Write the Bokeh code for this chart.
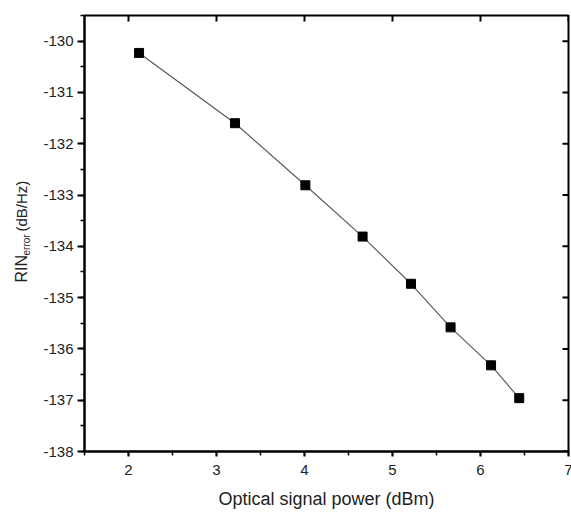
import math
from bokeh.plotting import figure
from bokeh.layouts import row
from bokeh.models import LinearAxis, SingleIntervalTicker, Range1d, NumeralTickFormatter
from bokeh.core.properties import value
from bokeh.embed import file_html
from bokeh.resources import INLINE

# data
power_dbm = [2.12, 3.21, 4.01, 4.66, 5.21, 5.66, 6.12, 6.44]
rin_error = [-130.23, -131.60, -132.81, -133.81, -134.73, -135.58, -136.32, -136.96]

x_ticks = [2, 3, 4, 5, 6, 7]
y_ticks = [-138, -137, -136, -135, -134, -133, -132, -131, -130]

x_label = "Optical signal power (dBm)"
y_label_parts = ["RIN", "error", "(dB/Hz)"]

FONT = "Liberation Sans"
X0, X1, Y0, Y1 = 1.5, 7.0, -138.0, -129.5
FW, FH = 484, 436
TITLE_W = 40

p = figure(frame_width=FW, frame_height=FH,
           x_range=Range1d(X0, X1), y_range=Range1d(Y0, Y1),
           output_backend="svg", toolbar_location=None,
           min_border_left=83 - TITLE_W, min_border_right=4, min_border_top=15, min_border_bottom=61,
           x_axis_location=None, y_axis_location=None)
p.outline_line_color = "black"
p.outline_line_width = 2
p.xgrid.visible = False
p.ygrid.visible = False
p.background_fill_color = "white"
p.border_fill_color = "white"

def style(ax, major_out, minor_out):
    ax.axis_line_width = 2
    ax.axis_line_color = "black"
    ax.major_tick_line_width = 2
    ax.major_tick_line_color = "black"
    ax.minor_tick_line_width = 1.5
    ax.minor_tick_line_color = "black"
    ax.major_tick_in = 0
    ax.major_tick_out = major_out
    ax.minor_tick_in = 0
    ax.minor_tick_out = minor_out
    ax.major_label_text_font = FONT
    ax.major_label_text_font_size = "15px"
    ax.major_label_text_color = "#222222"
    ax.formatter = NumeralTickFormatter(format="0")

xb = LinearAxis(ticker=SingleIntervalTicker(interval=1, num_minor_ticks=2))
style(xb, 5, 4)
xb.major_label_standoff = 8
xb.axis_label = x_label
xb.axis_label_text_font = FONT
xb.axis_label_text_font_size = "18px"
xb.axis_label_text_font_style = "normal"
xb.axis_label_text_color = "#222222"
xb.axis_label_standoff = 11
p.add_layout(xb, "below")

yl = LinearAxis(ticker=SingleIntervalTicker(interval=1, num_minor_ticks=2))
style(yl, 7, 4)
yl.major_label_standoff = 4
p.add_layout(yl, "left")

# inward major ticks on the top and right frame edges
tick_px = 6
dy = tick_px * (Y1 - Y0) / FH
dx = tick_px * (X1 - X0) / FW
p.segment(x0=x_ticks, y0=[Y1] * len(x_ticks), x1=x_ticks, y1=[Y1 - dy] * len(x_ticks),
          line_color="black", line_width=2)
p.segment(x0=[X1] * len(y_ticks), y0=y_ticks, x1=[X1 - dx] * len(y_ticks), y1=y_ticks,
          line_color="black", line_width=2)

p.line(power_dbm, rin_error, line_color="#5a5252", line_width=1.1)
p.scatter(power_dbm, rin_error, marker="square", size=9, fill_color="black", line_color="black")

# narrow figure carrying the rotated y-axis title with its subscript (pixel coordinates)
H = 15 + FH + 61
t = figure(frame_width=TITLE_W, frame_height=H, x_range=Range1d(0, TITLE_W), y_range=Range1d(H, 0),
           output_backend="svg", toolbar_location=None, min_border=0,
           x_axis_location=None, y_axis_location=None)
t.outline_line_color = None
t.xgrid.visible = False
t.ygrid.visible = False
t.background_fill_color = "white"
t.border_fill_color = "white"

title_x = [21, 26, 21]
title_y = [267, 240, 216]
title_size = ["16px", "10px", "15px"]
for txt, xx, yy, fs in zip(y_label_parts, title_x, title_y, title_size):
    t.text(x=[xx], y=[yy], text=[txt], angle=math.pi / 2,
           text_align="left", text_baseline="alphabetic",
           text_font=value(FONT), text_font_size=value(fs), text_color="#222222")

layout = row(t, p, spacing=0)
open("out.html", "w").write(file_html(layout, INLINE))
